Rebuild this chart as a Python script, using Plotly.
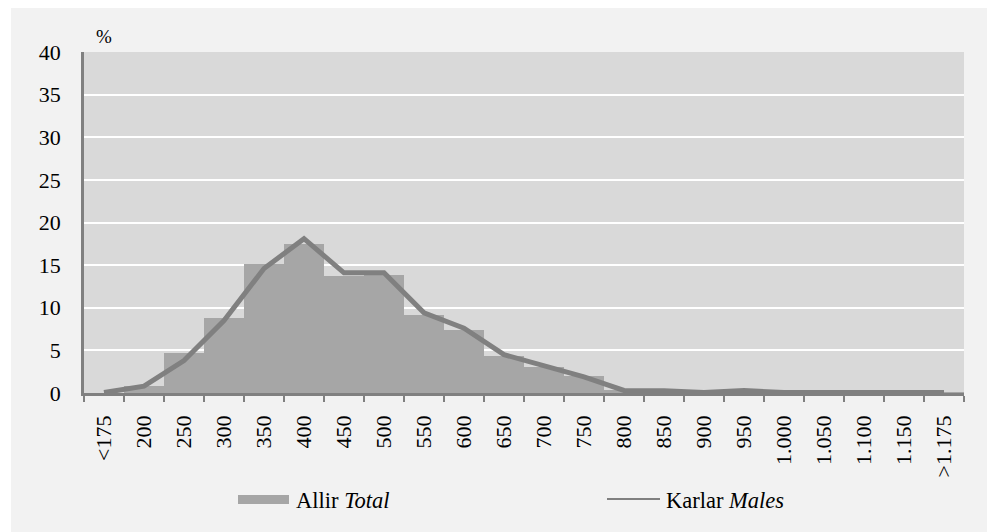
import plotly.graph_objects as go

categories = ["<175", "200", "250", "300", "350", "400", "450", "500", "550", "600",
              "650", "700", "750", "800", "850", "900", "950", "1.000", "1.050",
              "1.100", "1.150", ">1.175"]
total = [0.0, 0.8, 4.7, 8.8, 15.1, 17.5, 13.7, 13.9, 9.1, 7.4,
         4.3, 3.0, 2.0, 0.4, 0.3, 0.1, 0.2, 0.1, 0.1, 0.1, 0.1, 0.1]
males = [0.05, 0.8, 3.8, 8.5, 14.6, 18.1, 14.1, 14.1, 9.4, 7.6,
         4.5, 3.2, 1.9, 0.3, 0.25, 0.05, 0.3, 0.05, 0.05, 0.05, 0.05, 0.05]
y_ticks = [0, 5, 10, 15, 20, 25, 30, 35, 40]

FONT = "Liberation Serif"
OFF = 8  # default page body margin
W, H = 995 - OFF, 532 - OFF
L, T = 84 - OFF, 52 - OFF
R = W - (964 - OFF)
B = H - (393 - OFF)
PW, PH = W - L - R, H - T - B


def px(x):
    """page x -> paper x"""
    return (x - OFF - L) / PW


def py(y):
    """page y -> paper y"""
    return (H - B - (y - OFF)) / PH


fig = go.Figure()
fig.add_trace(go.Bar(x=categories, y=total, name="Allir <i>Total</i>",
                     marker=dict(color="#a6a6a6", line=dict(width=0)),
                     showlegend=False))
fig.add_trace(go.Scatter(x=categories, y=males, name="Karlar <i>Males</i>",
                         mode="lines", line=dict(color="#808080", width=5),
                         showlegend=False))

shapes = [
    # white outer strip on the left
    dict(type="rect", xref="paper", yref="paper", x0=px(OFF), x1=px(11), y0=py(H + OFF), y1=py(OFF),
         fillcolor="white", line=dict(width=0), layer="below"),
    # legend symbols
    dict(type="rect", xref="paper", yref="paper", x0=px(238), x1=px(289), y0=py(504), y1=py(495),
         fillcolor="#a6a6a6", line=dict(width=0)),
    dict(type="line", xref="paper", yref="paper", x0=px(607), x1=px(660), y0=py(499), y1=py(499),
         line=dict(color="#808080", width=2)),
]

annotations = [
    dict(text="%", xref="paper", yref="paper", x=px(104), y=py(36), showarrow=False,
         xanchor="center", yanchor="middle", font=dict(family=FONT, size=19, color="black")),
    dict(text="Allir <i>Total</i>", xref="paper", yref="paper", x=px(294), y=py(500),
         showarrow=False, xanchor="left", yanchor="middle",
         font=dict(family=FONT, size=22.5, color="black")),
    dict(text="Karlar <i>Males</i>", xref="paper", yref="paper", x=px(664), y=py(500),
         showarrow=False, xanchor="left", yanchor="middle",
         font=dict(family=FONT, size=22.5, color="black")),
]

fig.update_layout(
    width=W, height=H,
    margin=dict(l=L, r=R, t=T, b=B, autoexpand=False),
    paper_bgcolor="#f2f2f2",
    plot_bgcolor="#d9d9d9",
    bargap=0,
    showlegend=False,
    font=dict(family=FONT, size=22, color="black"),
    shapes=shapes,
    annotations=annotations,
)
fig.update_xaxes(
    type="category", categoryorder="array", categoryarray=categories,
    range=[-0.5, len(categories) - 0.5],
    tickson="boundaries", ticks="outside", ticklen=6, tickwidth=1.5, tickcolor="#808080",
    showline=True, linecolor="#808080", linewidth=2.5,
    showgrid=False, tickangle=-90, ticklabelstandoff=11,
    tickfont=dict(family=FONT, size=22, color="black"),
)
fig.update_yaxes(
    range=[0, 40], tickvals=y_ticks, ticktext=[str(v) for v in y_ticks],
    showgrid=True, gridcolor="white", gridwidth=2,
    showline=True, linecolor="#808080", linewidth=2.5, zeroline=False,
    ticks="", ticklabelstandoff=16,
    tickfont=dict(family=FONT, size=22, color="black"),
)

fig.write_html("out.html")
